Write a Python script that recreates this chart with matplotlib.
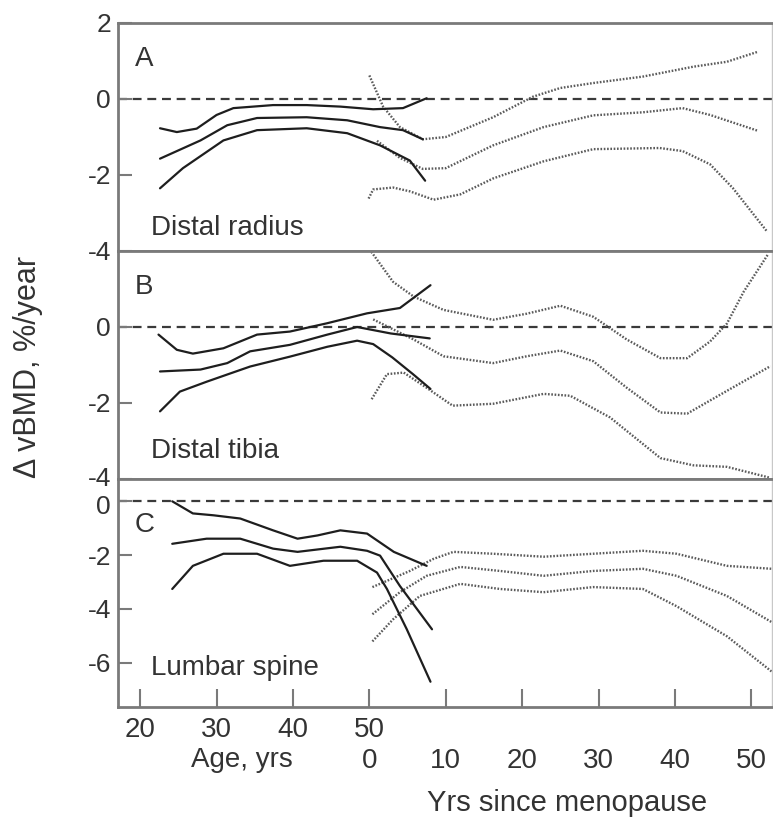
import matplotlib.pyplot as plt
import matplotlib.transforms as mtransforms
import numpy as np

plt.rcParams['font.family'] = ['Liberation Sans', 'DejaVu Sans']

# age at which "years since menopause" = 0
MENOPAUSE_AGE = 50

# ---- A: distal radius ----
A_age_hi = [22.6, 24.8, 27.4, 30.0, 32.2, 37.4, 41.8, 46.2, 50.5, 54.4, 57.5]
A_hi = [-0.77, -0.87, -0.78, -0.42, -0.24, -0.16, -0.16, -0.2, -0.27, -0.24, 0.02]
A_age_mid = [22.6, 27.9, 31.4, 35.3, 41.8, 47.1, 51.4, 54.4, 57.0]
A_mid = [-1.57, -1.09, -0.69, -0.5, -0.48, -0.56, -0.74, -0.82, -1.06]
A_age_lo = [22.6, 25.6, 30.9, 35.3, 41.8, 47.1, 51.4, 55.3, 57.3]
A_lo = [-2.35, -1.82, -1.09, -0.82, -0.77, -0.9, -1.22, -1.62, -2.15]

A_ysm_hi = [0, 1.8, 4.0, 7.0, 10.0, 16.2, 21.4, 25.0, 29.3, 35.8, 42.4, 46.8, 50.8]
A_post_hi = [0.62, -0.2, -0.74, -1.06, -1.0, -0.48, 0.06, 0.29, 0.42, 0.59, 0.85, 0.98, 1.24]
A_ysm_mid = [1.0, 4.0, 7.0, 10.0, 16.2, 22.8, 29.3, 35.8, 41.0, 44.6, 50.9]
A_post_mid = [-1.1, -1.55, -1.84, -1.82, -1.22, -0.74, -0.43, -0.35, -0.24, -0.42, -0.84]
A_ysm_lo = [-0.1, 0.5, 3.1, 5.3, 8.4, 11.9, 16.2, 22.8, 29.3, 38.0, 41.0, 44.6, 47.6, 52.1]
A_post_lo = [-2.62, -2.38, -2.33, -2.43, -2.65, -2.51, -2.09, -1.64, -1.32, -1.29, -1.37, -1.72, -2.35, -3.5]

# ---- B: distal tibia ----
B_age_hi = [22.4, 24.8, 26.9, 30.9, 35.3, 39.6, 44.5, 49.7, 54.0, 58.0]
B_hi = [-0.2, -0.6, -0.7, -0.56, -0.2, -0.12, 0.1, 0.36, 0.5, 1.1]
B_age_mid = [22.6, 27.9, 31.4, 34.4, 39.6, 44.5, 48.4, 52.8, 57.9]
B_mid = [-1.17, -1.12, -0.95, -0.64, -0.47, -0.2, 0.0, -0.17, -0.3]
B_age_lo = [22.6, 25.2, 28.7, 31.4, 34.4, 39.6, 44.5, 48.4, 50.5, 53.0, 55.7, 58.0]
B_lo = [-2.22, -1.7, -1.44, -1.25, -1.04, -0.78, -0.52, -0.36, -0.45, -0.8, -1.24, -1.63]

B_ysm_hi = [0, 3.1, 5.8, 9.7, 16.2, 20.6, 25.0, 29.3, 33.7, 38.1, 41.6, 44.6, 46.8, 49.0, 52.2]
B_post_hi = [2.05, 1.19, 0.8, 0.45, 0.19, 0.35, 0.56, 0.27, -0.33, -0.82, -0.82, -0.38, 0.09, 0.93, 1.92]
B_ysm_mid = [0.5, 5.8, 9.7, 16.2, 20.6, 25.0, 29.3, 33.7, 38.1, 41.6, 46.8, 52.5]
B_post_mid = [0.2, -0.33, -0.77, -0.95, -0.77, -0.62, -0.9, -1.6, -2.25, -2.28, -1.68, -1.03]
B_ysm_lo = [0.3, 2.3, 4.5, 7.5, 10.9, 16.2, 22.8, 26.3, 31.5, 38.1, 42.4, 46.8, 52.5]
B_post_lo = [-1.9, -1.24, -1.2, -1.6, -2.07, -2.02, -1.76, -1.81, -2.38, -3.45, -3.64, -3.68, -3.97]

# ---- C: lumbar spine ----
C_age_hi = [24.2, 26.9, 29.6, 33.1, 37.4, 40.6, 43.2, 46.2, 49.7, 53.2, 57.5]
C_hi = [0.0, -0.45, -0.52, -0.64, -1.08, -1.39, -1.27, -1.08, -1.2, -1.88, -2.4]
C_age_mid = [24.2, 28.7, 33.1, 37.4, 40.6, 46.2, 49.7, 51.4, 54.0, 58.2]
C_mid = [-1.58, -1.39, -1.39, -1.76, -1.88, -1.69, -1.84, -2.02, -3.15, -4.76]
C_age_lo = [24.2, 26.9, 30.9, 35.3, 39.6, 44.0, 48.4, 51.0, 52.3, 54.9, 58.0]
C_lo = [-3.26, -2.4, -1.95, -1.95, -2.4, -2.21, -2.21, -2.65, -3.26, -4.76, -6.71]

C_ysm_hi = [0.4, 5.3, 8.4, 11.0, 16.2, 22.8, 29.3, 35.8, 40.2, 46.8, 52.7]
C_post_hi = [-3.19, -2.59, -2.14, -1.88, -1.95, -2.06, -1.95, -1.84, -1.95, -2.4, -2.51]
C_ysm_mid = [0.4, 4.0, 7.5, 11.9, 17.1, 22.8, 29.3, 35.8, 40.2, 46.8, 52.7]
C_post_mid = [-4.2, -3.38, -2.77, -2.44, -2.59, -2.77, -2.59, -2.51, -2.77, -3.52, -4.5]
C_ysm_lo = [0.4, 3.1, 6.6, 11.9, 17.1, 22.8, 29.3, 35.8, 40.2, 46.8, 52.7]
C_post_lo = [-5.21, -4.39, -3.52, -3.07, -3.26, -3.38, -3.19, -3.26, -3.9, -5.02, -6.34]

age_ticks = [20, 30, 40, 50]
ysm_ticks = [0, 10, 20, 30, 40, 50]

panels = [
    dict(letter='A', site='Distal radius', ylim=(-4, 2), yticks=[2, 0, -2, -4], site_y=0.07,
         pre=[(A_age_hi, A_hi), (A_age_mid, A_mid), (A_age_lo, A_lo)],
         post=[(A_ysm_hi, A_post_hi), (A_ysm_mid, A_post_mid), (A_ysm_lo, A_post_lo)]),
    dict(letter='B', site='Distal tibia', ylim=(-4, 2), yticks=[0, -2, -4], site_y=0.09,
         pre=[(B_age_hi, B_hi), (B_age_mid, B_mid), (B_age_lo, B_lo)],
         post=[(B_ysm_hi, B_post_hi), (B_ysm_mid, B_post_mid), (B_ysm_lo, B_post_lo)]),
    dict(letter='C', site='Lumbar spine', ylim=(-7.65, 0.83), yticks=[0, -2, -4, -6], site_y=0.14,
         pre=[(C_age_hi, C_hi), (C_age_mid, C_mid), (C_age_lo, C_lo)],
         post=[(C_ysm_hi, C_post_hi), (C_ysm_mid, C_post_mid), (C_ysm_lo, C_post_lo)]),
]

spine_col = '#7a7a7a'
text_col = '#333333'
fs = 20

fig, axes = plt.subplots(3, 1, figsize=(7.73, 8.24), dpi=100, sharex=True)
fig.subplots_adjust(left=118 / 773, right=772 / 773, top=1 - 23 / 824, bottom=1 - 707 / 824, hspace=0)

for ax, p in zip(axes, panels):
    ax.axhline(0, color='#3a3a3a', lw=1.6, ls=(0, (4, 2.6)), zorder=1)
    for x, y in p['pre']:
        ax.plot(x, y, color='#1e1e1e', lw=1.6, solid_capstyle='round', solid_joinstyle='round', zorder=3)
    for x, y in p['post']:
        ax.plot(np.array(x) + MENOPAUSE_AGE, y, color='#5a5a5a', lw=1.7,
                ls=(0, (0.7, 0.7)), zorder=2)
    ax.set_ylim(*p['ylim'])
    ax.set_yticks(p['yticks'])
    ax.set_yticklabels([str(t) for t in p['yticks']])
    ax.tick_params(axis='y', direction='in', length=10, width=1.5, color=spine_col,
                   labelsize=19, labelcolor=text_col, pad=5)
    ax.tick_params(axis='x', bottom=False)
    for side in ['left', 'top', 'bottom']:
        ax.spines[side].set_color(spine_col)
        ax.spines[side].set_linewidth(2)
    ax.spines['right'].set_color('#c8c8c8')
    ax.spines['right'].set_linewidth(1)
    ax.text(0.026, 0.84 if p['letter'] != 'C' else 0.8, p['letter'], transform=ax.transAxes,
            fontsize=fs, color=text_col, va='center', ha='left')
    ax.text(0.05, p['site_y'], p['site'], transform=ax.transAxes,
            fontsize=fs, color=text_col, va='baseline', ha='left')

# the B "-4" and C "0" labels sit very close; nudge them apart a little
lab_b = axes[1].get_yticklabels()[-1]
lab_b.set_transform(lab_b.get_transform() + mtransforms.ScaledTranslation(0, 0.03, fig.dpi_scale_trans))
lab_c = axes[2].get_yticklabels()[0]
lab_c.set_transform(lab_c.get_transform() + mtransforms.ScaledTranslation(0, -0.03, fig.dpi_scale_trans))

ax_c = axes[-1]
ax_c.set_xlim(17.1, 102.7)
ax_c.set_xticks(age_ticks + [MENOPAUSE_AGE + t for t in ysm_ticks[1:]])
ax_c.set_xticklabels([str(t) for t in age_ticks] + [''] * (len(ysm_ticks) - 1))
ax_c.tick_params(axis='x', bottom=True, direction='in', length=13, width=1.5, color=spine_col,
                 labelsize=fs, labelcolor=text_col, pad=7)

# second row of tick labels: years since menopause
secax = ax_c.secondary_xaxis(-0.18, functions=(lambda a: a - MENOPAUSE_AGE, lambda t: t + MENOPAUSE_AGE))
secax.set_xticks(ysm_ticks)
secax.set_xticklabels([str(t) for t in ysm_ticks])
secax.tick_params(length=0, labelsize=fs, labelcolor=text_col, pad=0)
secax.spines['bottom'].set_visible(False)

ax_c.text(0.19, -0.175, 'Age, yrs', transform=ax_c.transAxes, fontsize=fs,
          color=text_col, ha='center', va='top')
ax_c.text(0.687, -0.36, 'Yrs since menopause', transform=ax_c.transAxes, fontsize=21,
          color=text_col, ha='center', va='top')

fig.text(28 / 773, 1 - 367 / 824, '\u0394 vBMD, %/year', rotation=90, fontsize=22,
         color=text_col, ha='center', va='center')

fig.savefig('out.png', dpi=100)
